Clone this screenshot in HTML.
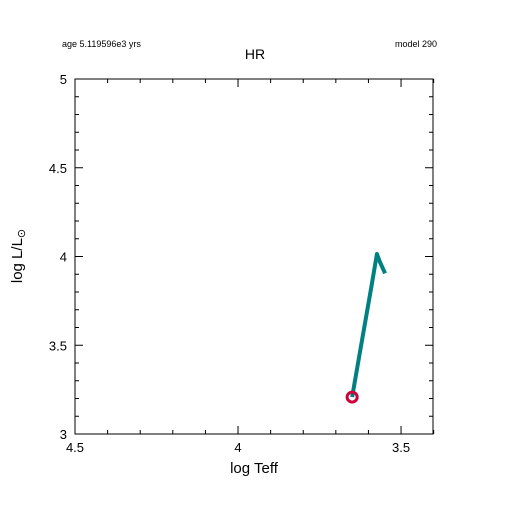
<!DOCTYPE html>
<html><head><meta charset="utf-8"><style>body{margin:0;background:#fff}svg{display:block}text{font-family:"Liberation Sans",sans-serif;fill:#000}</style></head>
<body>
<svg id="c" width="511" height="511"></svg>
<script>
const teffVals=[3.650,3.630,3.610,3.590,3.574,3.565,3.549];
const lumVals=[3.208,3.42,3.63,3.84,4.014,3.97,3.905];
const xTickLabels=["4.5","4","3.5"];
const xTickVals=[4.5,4.0,3.5];
const yTickLabels=["3","3.5","4","4.5","5"];
const yTickVals=[3,3.5,4,4.5,5];
const L=75,R=433,T=79,B=434;
const xs=v=>L+(4.5-v)/(4.5-3.402)*(R-L);
const ys=v=>B-(v-3)/2*(B-T);
const s=document.getElementById('c');const ns='http://www.w3.org/2000/svg';
function mk(t,a,p){const e=document.createElementNS(ns,t);for(const k in a)e.setAttribute(k,a[k]);(p||s).appendChild(e);return e;}
function tx(x,y,str,size,anchor,name){const e=mk('text',{x:x,y:y,'font-size':size,'text-anchor':anchor});e.textContent=str;


return e;}
const fr=mk('rect',{x:L,y:T,width:R-L,height:B-T,fill:'none',stroke:'#000','stroke-width':1});


let d='';
for(let i=0;i<=11;i++){const v=4.5-i*0.1;if(v<3.4)break;const x=xs(v);const len=(i%5==0)?8:4;d+=`M${x},${B}v${-len}M${x},${T}v${len}`;}
for(let i=0;i<=20;i++){const v=3+i*0.1;const y=ys(v);const len=(i%5==0)?8:4;d+=`M${L},${y}h${len}M${R},${y}h${-len}`;}
const tk=mk('path',{d:d,stroke:'#000','stroke-width':1,fill:'none'});


xTickVals.forEach((v,i)=>tx(xs(v),452,xTickLabels[i],13,'middle','x-tick-label'));
yTickVals.forEach((v,i)=>tx(L-8,ys(v)+5,yTickLabels[i],13,'end','y-tick-label'));
tx(254,473,'log Teff',15,'middle','x-axis-title');
const yt=mk('text',{x:0,y:0,'font-size':15,'text-anchor':'middle',transform:'translate(22,256) rotate(-90)'});
yt.innerHTML='log L/L<tspan font-size="11" dy="3">⊙</tspan>';


tx(255,59,'HR',14,'middle','chart-title');
tx(62,47,'age 5.119596e3 yrs',9,'start','age-label');
tx(437,47,'model 290',9,'end','model-label');
const pts=teffVals.map((v,i)=>xs(v)+','+ys(lumVals[i])).join(' ');
const ln=mk('polyline',{points:pts,fill:'none',stroke:'#008080','stroke-width':4,'stroke-linejoin':'round'});


const c=mk('circle',{cx:xs(teffVals[0]),cy:ys(lumVals[0]),r:5,fill:'none',stroke:'#d0003a','stroke-width':3});


</script>
</body></html>
